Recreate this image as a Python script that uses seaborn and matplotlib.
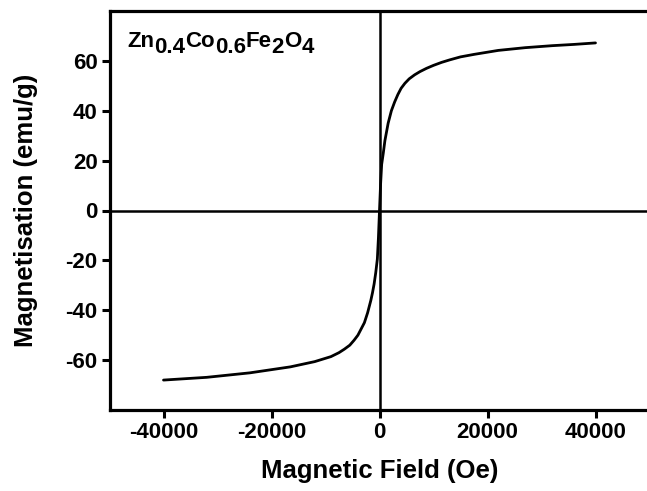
import matplotlib
matplotlib.use("Agg")
import matplotlib.pyplot as plt
import matplotlib.transforms as mtransforms
import seaborn as sns
import pandas as pd

# Data
field_oe = [-40000, -32000, -24000, -16500, -12000, -9000, -7500, -6500, -5500,
            -4700, -4000, -3400, -2800, -2200, -1600, -1300, -1000, -700,
            -400, -200, 0,
            200, 400, 700, 1000, 1300, 1600, 2200, 2800, 3400, 4000, 4700,
            5500, 6500, 7500, 8700, 10000, 11500, 13000, 15000, 17500,
            22000, 27000, 32000, 36000, 40000]
magnetisation = [-68.0, -66.9, -65.1, -62.7, -60.6, -58.6, -57.0, -55.6, -54.0,
                 -52.0, -50.0, -47.5, -45.0, -41.0, -36.0, -33.0, -29.5, -25.0,
                 -19.5, -11.0, 0.0,
                 10.5, 18.5, 23.0, 28.0, 31.5, 35.0, 40.0, 43.5, 46.5, 49.0,
                 51.0, 52.8, 54.4, 55.7, 57.0, 58.2, 59.4, 60.4, 61.6, 62.6,
                 64.2, 65.3, 66.1, 66.6, 67.2]
x_ticks = [-40000, -20000, 0, 20000, 40000]
y_ticks = [-60, -40, -20, 0, 20, 40, 60]
formula_parts = [("Zn", False), ("0.4", True), ("Co", False), ("0.6", True),
                 ("Fe", False), ("2", True), ("O", False), ("4", True)]

sns.set_style("ticks")
plt.rcParams["font.family"] = ["Liberation Sans", "DejaVu Sans"]
plt.rcParams["font.weight"] = "bold"
plt.rcParams["text.color"] = "black"
plt.rcParams["axes.labelcolor"] = "black"
plt.rcParams["xtick.color"] = "black"
plt.rcParams["ytick.color"] = "black"
plt.rcParams["axes.edgecolor"] = "black"

df = pd.DataFrame({"H": field_oe, "M": magnetisation})

fig = plt.figure(figsize=(6.47, 4.91), dpi=100)
ax = fig.add_axes([109.5 / 647, 1 - 410 / 491, 540 / 647, 399 / 491])

sns.lineplot(data=df, x="H", y="M", ax=ax, color="black", linewidth=2.0,
             sort=False, estimator=None)
ax.axhline(0, color="black", linewidth=1.8, zorder=1)
ax.axvline(0, color="black", linewidth=1.8, zorder=1)

ax.set_xlim(-50000, 50000)
ax.set_ylim(-80, 80)
ax.set_xticks(x_ticks)
ax.set_yticks(y_ticks)
ax.set_xticklabels([str(v) for v in x_ticks], fontsize=16, fontweight="bold",
                   color="black")
ax.set_yticklabels([str(v) for v in y_ticks], fontsize=16, fontweight="bold",
                   color="black")
ax.tick_params(axis="both", direction="out", length=5.5, width=2.2,
               colors="black")
ax.tick_params(axis="x", pad=3.5)
ax.tick_params(axis="y", pad=3)
ax.tick_params(top=False, right=False)
for s in ax.spines.values():
    s.set_linewidth(2.3)
    s.set_color("black")

ax.set_xlabel("Magnetic Field (Oe)", fontsize=18.5, fontweight="bold",
              labelpad=11, color="black")
ax.set_ylabel("Magnetisation (emu/g)", fontsize=18.5, fontweight="bold",
              labelpad=20, color="black")

# Formula annotation, subscripts at full size shifted down
renderer = fig.canvas.get_renderer()
x0, y0 = 127 / 647, 1 - 47 / 491
trans = fig.transFigure
xoff = 0.0
for txt, sub in formula_parts:
    t = fig.text(x0, y0, txt, fontsize=16, fontweight="bold", va="baseline",
                 ha="left", color="black",
                 transform=mtransforms.offset_copy(trans, fig=fig, x=xoff,
                                                   y=-6 if sub else 0,
                                                   units="dots"))
    bb = t.get_window_extent(renderer=renderer)
    xoff += bb.width

fig.savefig("out.png", dpi=100)
